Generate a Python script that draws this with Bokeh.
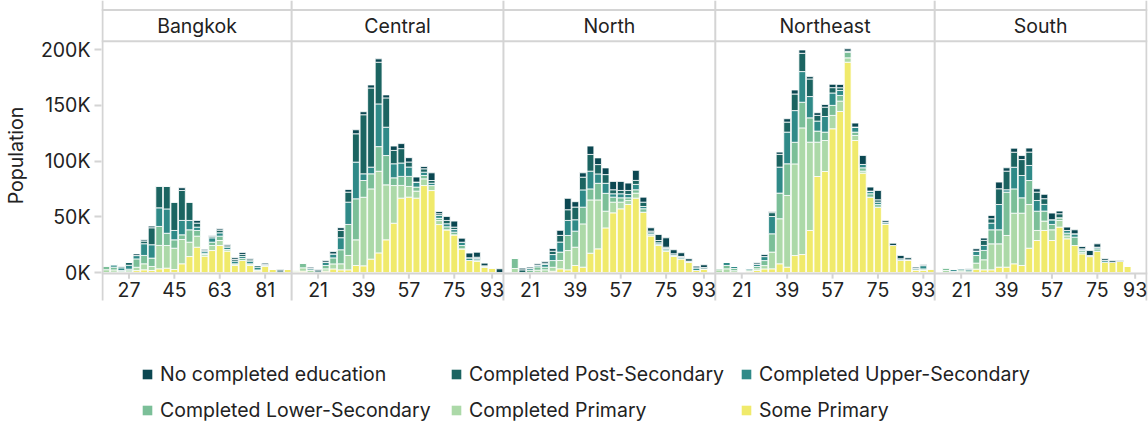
from bokeh.plotting import figure
from bokeh.models import ColumnDataSource, Range1d, Span, FixedTicker, Legend, LegendItem
from bokeh.layouts import column
from bokeh.embed import file_html
from bokeh.resources import INLINE
from bokeh.core.properties import value

FONT = "Inter"
FS = "19.5px"
TEXT = "#222222"
GRAY = "#d4d4d4"

# ---------------- data (population in thousands) ----------------
categories = ["No completed education", "Completed Post-Secondary", "Completed Upper-Secondary",
              "Completed Lower-Secondary", "Completed Primary", "Some Primary"]
colors = ["#0b4751", "#1b6461", "#2f8a88", "#7bbf98", "#acd9a8", "#f0ea6b"]
keys = ["none", "post", "upper", "lower", "primary", "some"]

regions = ["Bangkok", "Central", "North", "Northeast", "South"]

bangkok_ages = [18, 21, 24, 27, 30, 33, 36, 39, 42, 45, 48, 51, 54, 57, 60, 63, 66, 69, 72, 75, 78, 81, 84, 87, 90]
bangkok_none = [0, 0, 0, 0, 1.5, 1.2, 1.5, 0, 0, 0, 2.4, 0, 2.4, 0.8, 0.7, 1.2, 1.2, 1.5, 1.8, 1.0, 0, 1.1, 0, 1.2, 0]
bangkok_post = [0, 0.4, 1.5, 2.5, 0, 2.4, 15.2, 19.4, 20.3, 25.4, 26.9, 16.4, 3.6, 1.0, 1.4, 2.4, 1.2, 1.5, 1.8, 1.1, 1.5, 1.0, 0, 1.5, 0]
bangkok_upper = [0.5, 2, 2.5, 3.5, 3, 10.5, 12, 16.7, 21.8, 8.4, 12.9, 8.4, 3, 1.8, 3.9, 3, 2.1, 2.4, 1.8, 2.4, 2.5, 0, 0, 0, 0]
bangkok_lower = [3, 2.5, 1, 1.5, 7.5, 7.5, 7.5, 17, 11, 7.5, 4.2, 11.1, 5.1, 1.2, 3, 3.9, 0, 0, 1.8, 0, 0, 0, 0, 0, 0]
bangkok_primary = [2.5, 2, 0.7, 1.5, 3, 5.4, 3.6, 21, 20.3, 19.1, 21.8, 12.9, 9.9, 1.5, 4.5, 4.5, 1.5, 1.5, 0, 1.5, 1.0, 0.8, 0, 0, 0]
bangkok_some = [0, 0.3, 0, 0, 1.7, 2.4, 1.8, 3.3, 3.9, 2.7, 7.8, 14.3, 22.7, 14.6, 19.7, 24.2, 19.1, 6.3, 10.8, 6.3, 1.3, 5.5, 2.7, 0, 2.7]
bangkok_ticks = [27, 45, 63, 81]

central_ages = [12, 15, 18, 21, 24, 27, 30, 33, 36, 39, 42, 45, 48, 51, 54, 57, 60, 63, 66, 69, 72, 75, 78, 81, 84, 87, 93, 96]
central_none = [0, 0, 1, 1.2, 1.5, 2.1, 2.4, 2.4, 3.6, 2.7, 2.7, 3, 2.7, 3.9, 4.5, 3.9, 4.5, 2.1, 6.9, 2, 3.6, 5.4, 3.6, 4.2, 4.5, 2.4, 0, 3.3]
central_post = [0, 0, 0, 1.5, 0, 0, 6.6, 9, 25.4, 53, 71, 37.4, 26.3, 12, 12.9, 4.5, 0, 3, 2.4, 1.6, 3, 2.2, 0, 0, 1.2, 0, 0, 0]
central_upper = [0, 0, 1.5, 0, 3, 3.6, 10.8, 20, 32.9, 6, 6, 38.3, 25.4, 12.6, 12, 8.4, 4.5, 3, 2.1, 2.5, 2.7, 2.3, 3, 2.4, 1.2, 0, 0, 0]
central_lower = [0, 4.2, 0, 0, 3, 5.4, 12.6, 27.8, 36.8, 15, 13.5, 22.1, 26.3, 6.9, 8.1, 9, 3.6, 3, 0, 2, 2.7, 2.4, 3, 0, 1.1, 1.2, 0, 0]
central_primary = [1.6, 3.0, 2.3, 0, 2.1, 4.5, 5.4, 12.9, 23, 61.5, 63, 73.2, 49.3, 33.8, 11.4, 9.6, 6.3, 6, 4.5, 3.6, 0, 0, 0, 0, 0, 0, 0, 0]
central_some = [0.8, 1.2, 0, 0, 1.2, 3.2, 2.4, 2.4, 6.3, 6, 12, 17.6, 29.3, 44.2, 66.7, 67.6, 66.7, 78, 73.5, 43, 38.3, 33.8, 21.2, 10.8, 10.2, 4.8, 4.2, 0]
central_ticks = [21, 39, 57, 75, 93]

north_ages = [12, 15, 18, 21, 24, 27, 30, 33, 36, 39, 42, 45, 48, 51, 54, 57, 60, 63, 66, 69, 72, 75, 78, 81, 84, 87, 93, 96]
north_none = [0, 0, 1.5, 1.2, 1.2, 1.5, 2.4, 4.5, 10.2, 4.8, 3.9, 7.5, 6, 6, 7.5, 8.1, 6.6, 9, 4.5, 3, 5.4, 8.4, 3.6, 3.3, 2.1, 1.5, 2.4, 0]
north_post = [0, 0, 2.4, 0, 0, 1.2, 3, 6, 9.6, 11.4, 11.4, 15, 8.4, 7.8, 3.6, 3, 3.6, 3.6, 3.9, 1.5, 2.1, 1.2, 1.2, 1, 0, 0, 1.2, 0]
north_upper = [0, 0, 0, 1.5, 1.5, 2.4, 5.4, 9, 13.5, 10.2, 15.5, 15.9, 8.4, 9, 3, 3.6, 3, 4.8, 2, 1.5, 1.2, 1.2, 0, 1.1, 0.9, 2.4, 0, 0]
north_lower = [0, 9, 0, 2.1, 3, 2.4, 6, 7.5, 13.5, 14.4, 15, 9.9, 14.9, 16, 4.5, 3.9, 2.4, 3, 3.1, 1.2, 1.2, 1.2, 1.2, 0, 0, 0, 0, 0]
north_primary = [0, 3.6, 0, 0, 2.1, 2.4, 3.6, 7.5, 17.3, 16.4, 38.8, 47.8, 43.9, 15, 9.6, 6, 3.6, 4.5, 0, 0, 0, 0, 0, 0, 0, 0, 0, 0]
north_some = [0, 0, 0, 0, 0, 0, 1.1, 3.3, 2.4, 6.3, 4.8, 17.3, 21.2, 40, 53.5, 57.1, 61, 66.7, 54.1, 32.9, 24.2, 19.1, 14.4, 12.3, 9.3, 1.8, 3.3, 0]
north_ticks = [21, 39, 57, 75, 93]

northeast_ages = [12, 15, 18, 21, 24, 27, 30, 33, 36, 39, 42, 45, 48, 51, 54, 57, 60, 63, 66, 69, 72, 75, 78, 81, 84, 87, 90, 93, 96]
northeast_none = [0, 0, 0, 0, 0, 1.2, 1.8, 1, 2, 3, 3.6, 3, 2.1, 2.4, 2.4, 3, 3, 2.1, 3.6, 8.1, 3.6, 8.4, 1.5, 2.1, 3, 1.8, 1.2, 1, 0]
northeast_post = [0, 0, 0, 0, 0, 0, 0, 3.5, 11.5, 9, 14.9, 16.4, 15.8, 5.1, 8.4, 4.8, 2.4, 0, 0, 0, 0, 2.1, 0, 0, 0, 0, 0, 0, 0]
northeast_upper = [0, 2.7, 1.8, 0, 1.2, 2.1, 3.6, 15.5, 23.3, 28.4, 28.4, 27.5, 19.1, 9, 14, 11.1, 4.5, 1, 4.5, 3, 2.4, 2.2, 1.5, 0, 1.5, 0, 1.2, 3, 0]
northeast_lower = [1.2, 3, 2, 0, 1.2, 2.1, 4.5, 16.4, 23, 28.4, 19.4, 23, 21.8, 9.9, 7.5, 9, 5.1, 5, 3, 3, 3, 2.3, 0, 0, 0, 0, 0, 1, 0]
northeast_primary = [2.4, 3.3, 1.6, 0, 0, 1.5, 3, 15, 40.4, 64.3, 82.2, 113.6, 79.2, 30.8, 27.8, 12, 9.3, 3.9, 4.5, 1.8, 0, 0, 0, 0, 0, 0, 0, 0, 0]
northeast_some = [0, 0, 0, 0, 1.2, 1.8, 3.2, 3.3, 7.8, 4.8, 15.2, 16.1, 37.7, 86.1, 90.6, 128.9, 144.4, 188.6, 118.4, 89.1, 67.6, 58.6, 43.6, 24.2, 10.8, 11.4, 2.4, 2.2, 3.3]
northeast_ticks = [21, 39, 57, 75, 93]

south_ages = [12, 15, 18, 21, 24, 27, 30, 33, 36, 39, 42, 45, 48, 51, 54, 57, 60, 63, 66, 69, 72, 75, 78, 81, 84, 87, 93, 96]
south_none = [0, 0, 0, 0, 0, 2.1, 2.1, 3, 6, 3, 3.6, 3.6, 3.6, 3, 3.9, 6, 2.4, 3, 3.6, 2.1, 4.5, 3, 1.5, 1.5, 0.9, 0, 0, 0]
south_post = [0, 0, 0, 0, 1, 0, 4.5, 3.9, 14.1, 16.7, 13.5, 14.3, 12, 7.5, 5.1, 0, 3.6, 0, 0, 0, 0, 0, 0, 0, 0, 0, 0, 0]
south_upper = [0, 0, 2, 1.2, 1.5, 3.9, 4.5, 6, 22.7, 2.1, 19.4, 20, 13.5, 9.6, 6, 4.2, 0, 2.4, 3, 1.5, 0.9, 1.5, 1.5, 0, 0, 0, 0, 0]
south_lower = [0, 2.4, 0, 1.2, 1.4, 6.9, 8.4, 12.6, 12.6, 38.9, 21.8, 13.8, 21.5, 17.3, 9, 4.8, 2.4, 2.5, 7.5, 1.5, 0, 2.1, 0, 0, 0, 0, 0, 0]
south_primary = [0, 1.8, 1, 1.2, 0, 5.4, 9, 23.3, 20.9, 28.4, 45.4, 46.9, 39.2, 9, 8.4, 9.6, 6, 2.6, 0, 1.5, 0, 0, 0, 0, 0, 0, 0, 0]
south_some = [0, 0, 0, 0, 0, 3, 2.4, 2.4, 4.8, 4.8, 7.8, 6.3, 21.8, 28.7, 37.7, 28.7, 40.7, 30.2, 24.2, 16.7, 14.3, 19.1, 9.3, 9.3, 9.9, 5.7, 0, 0]
south_ticks = [21, 39, 57, 75, 93]

y_ticks = [0, 50, 100, 150, 200]
y_tick_labels = ["0K", "50K", "100K", "150K", "200K"]

# ---------------- assemble ----------------
panels = [
    ("Bangkok", bangkok_ages, [bangkok_none, bangkok_post, bangkok_upper, bangkok_lower, bangkok_primary, bangkok_some], bangkok_ticks),
    ("Central", central_ages, [central_none, central_post, central_upper, central_lower, central_primary, central_some], central_ticks),
    ("North", north_ages, [north_none, north_post, north_upper, north_lower, north_primary, north_some], north_ticks),
    ("Northeast", northeast_ages, [northeast_none, northeast_post, northeast_upper, northeast_lower, northeast_primary, northeast_some], northeast_ticks),
    ("South", south_ages, [south_none, south_post, south_upper, south_lower, south_primary, south_some], south_ticks),
]

data = {"x": []}
for k in keys:
    data[k] = []
bounds = [0]
head_x, tick_x, tick_txt = [], [], []
offset = 0
for name, ages, series, ticks in panels:
    for i, a in enumerate(ages):
        data["x"].append(offset + i + 0.5)
        for k, s in zip(keys, series):
            data[k].append(s[i])
    for t in ticks:
        tick_x.append(offset + ages.index(t) + 0.5)
        tick_txt.append(str(t))
    head_x.append(offset + len(ages) / 2)
    offset += len(ages)
    bounds.append(offset)
total = offset
src = ColumnDataSource(data)

# layout constants (value units = thousands; 1K = 1.115px, 0 at y=272px)
Y_TOP, Y_BOTTOM = 243.95, -34.08          # frame covers y = 0 .. 310 px
Y_TOPLINE, Y_HEADLINE, Y_HEADTEXT = 235.4, 207.4, 221.5
Y_AXIS, Y_TICKEND, Y_TICKTXT = -0.9, -5.5, -15.2
Y_SEP_END = -25.1                          # panel separators stop at y = 300 px

p = figure(width=1148, height=310, x_range=Range1d(-0.13, total + 0.13), y_range=Range1d(Y_BOTTOM, Y_TOP),
           toolbar_location=None, output_backend="svg", x_axis_location=None,
           min_border_left=101, min_border_right=1, min_border_top=0, min_border_bottom=0,
           outline_line_color=None, background_fill_color="white", border_fill_color="white")
p.xgrid.visible = False
p.ygrid.visible = False

p.vbar_stack(stackers=list(reversed(keys)), x="x", width=0.9, color=list(reversed(colors)),
             line_color="white", line_width=0.8, source=src)

p.segment(x0=bounds, y0=[Y_TOP] * len(bounds), x1=bounds, y1=[Y_SEP_END] * len(bounds),
          line_color=GRAY, line_width=2)
for yv in (Y_TOPLINE, Y_HEADLINE, Y_AXIS):
    p.add_layout(Span(location=yv, dimension="width", line_color=GRAY, line_width=2))

p.text(x=head_x, y=[Y_HEADTEXT] * len(head_x), text=regions, text_align="center", text_baseline="middle",
       text_font=value(FONT), text_font_size=FS, text_color=TEXT)
p.segment(x0=tick_x, y0=[Y_AXIS] * len(tick_x), x1=tick_x, y1=[Y_TICKEND] * len(tick_x),
          line_color=GRAY, line_width=2)
p.text(x=tick_x, y=[Y_TICKTXT] * len(tick_x), text=tick_txt, text_align="center", text_baseline="middle",
       text_font=value(FONT), text_font_size=FS, text_color=TEXT)

ya = p.yaxis[0]
ya.ticker = FixedTicker(ticks=y_ticks)
ya.major_label_overrides = dict(zip(y_ticks, y_tick_labels))
ya.axis_line_color = None
ya.major_tick_line_color = GRAY
ya.major_tick_line_width = 2
ya.major_tick_out = 7
ya.major_tick_in = 0
ya.minor_tick_line_color = None
ya.major_label_standoff = 4
ya.major_label_text_font = FONT
ya.major_label_text_font_size = FS
ya.major_label_text_color = TEXT
ya.axis_label = "Population"
ya.axis_label_text_font = FONT
ya.axis_label_text_font_size = FS
ya.axis_label_text_font_style = "normal"
ya.axis_label_text_color = TEXT
ya.axis_label_standoff = 10

# ---------------- legend (separate strip below the panels) ----------------
lf = figure(width=1148, height=116, x_range=Range1d(0, 1), y_range=Range1d(0, 1),
            toolbar_location=None, output_backend="svg", x_axis_location=None, y_axis_location=None,
            min_border=0, outline_line_color=None, background_fill_color="white", border_fill_color="white")
lf.xgrid.visible = False
lf.ygrid.visible = False

# legend swatch proxies (kept outside the visible range of this strip)
legend_x = [40, 349, 639, 40, 349, 639]    # swatch left edge, px from the aligned frame edge
legend_y = [40, 40, 40, 4, 4, 4]           # legend bottom edge from strip bottom, px
for cat, col, lx, ly in zip(categories, colors, legend_x, legend_y):
    r = lf.rect(x=[-5], y=[-5], width=1, height=1, fill_color=col, line_color=None)
    leg = Legend(items=[LegendItem(label=cat, renderers=[r])], location=(lx, ly),
                 padding=0, margin=0, spacing=0, glyph_width=12, glyph_height=12, label_standoff=7,
                 label_text_font=FONT, label_text_font_size=FS, label_text_color=TEXT,
                 border_line_color=None, background_fill_alpha=0)
    lf.add_layout(leg)

layout = column(p, lf)
open("out.html", "w").write(file_html(layout, INLINE))
